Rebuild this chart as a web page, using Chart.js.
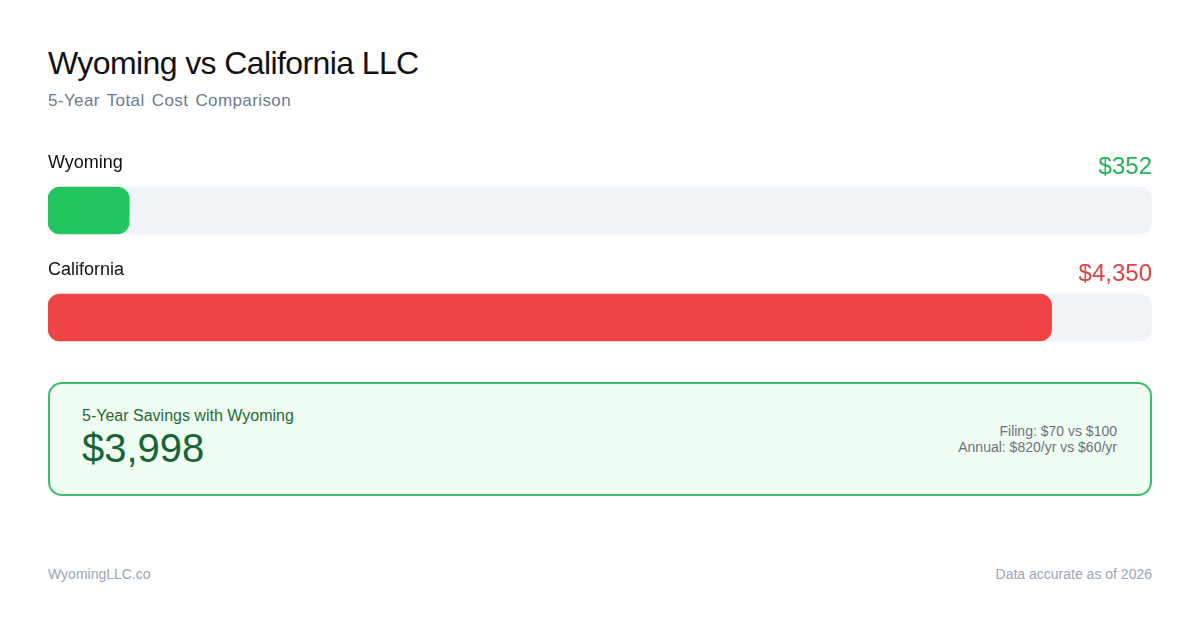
<!DOCTYPE html>
<html>
<head>
<meta charset="utf-8">
<script src="https://cdn.jsdelivr.net/npm/chart.js@4/dist/chart.umd.min.js"></script>
<style>
  html, body { margin: 0; padding: 0; background: #fff; }
  body { width: 1200px; height: 630px; position: relative; overflow: hidden; font-family: "Liberation Sans", Arial, sans-serif; }
  .title { position: absolute; left: 48px; top: 45px; font-size: 32px; color: #111; letter-spacing: -0.6px; }
  .subtitle { position: absolute; left: 48px; top: 91px; font-size: 17px; color: #6b7a8f; letter-spacing: 0.4px; word-spacing: 2px; }
  #wrap { position: absolute; left: 48px; top: 130px; width: 1104px; height: 250px; }
  .box { position: absolute; left: 48px; top: 382px; width: 1100px; height: 110px; border: 2px solid #3cbd6a; border-radius: 14px; background: #effdf3; }
  .box .lbl { position: absolute; left: 32px; top: 23px; font-size: 16px; color: #1f6b3b; }
  .box .big { position: absolute; left: 32px; top: 42px; font-size: 40px; color: #166534; }
  .box .right { position: absolute; right: 33px; top: 39px; font-size: 14px; color: #6b7280; text-align: right; line-height: 16px; }
  .foot { position: absolute; top: 566px; font-size: 14px; color: #9aa5b4; }
</style>
</head>
<body>
<div class="title">Wyoming vs California LLC</div>
<div class="subtitle">5-Year Total Cost Comparison</div>
<div id="wrap"><canvas id="bars"></canvas></div>
<div class="box">
  <div class="lbl">5-Year Savings with Wyoming</div>
  <div class="big" id="savings"></div>
  <div class="right" id="fees"></div>
</div>
<div class="foot" style="left:48px">WyomingLLC.co</div>
<div class="foot" style="right:48px">Data accurate as of 2026</div>
<script>
const states = ['Wyoming', 'California'];
const totals = [352, 4350];
const barColors = ['#22c55e', '#ef4444'];
const valueColors = ['#22b35a', '#dc4444'];
const scaleMax = 4785;
const filingFees = ['$70', '$100'];
const annualFees = ['$820/yr', '$60/yr'];

const money = v => '$' + v.toLocaleString('en-US');

document.getElementById('savings').textContent = money(totals[1] - totals[0]);
document.getElementById('fees').innerHTML =
    `Filing: ${filingFees[0]} vs ${filingFees[1]}<br>Annual: ${annualFees[0]} vs ${annualFees[1]}`;

// draws the state name and amount above each bar
const barLabels = {
    id: 'barLabels',
    afterDatasetsDraw(chart) {
        const ctx = chart.ctx;
        const meta = chart.getDatasetMeta(0);
        const area = chart.chartArea;
        ctx.save();
        meta.data.forEach((bar, i) => {
            const top = bar.y - 23.5;
            ctx.font = '18px "Liberation Sans", Arial, sans-serif';
            ctx.fillStyle = '#111';
            ctx.textAlign = 'left';
            ctx.textBaseline = 'alphabetic';
            ctx.fillText(states[i], area.left, top - 19);
            ctx.font = '24px "Liberation Sans", Arial, sans-serif';
            ctx.fillStyle = valueColors[i];
            ctx.textAlign = 'right';
            ctx.fillText(money(totals[i]), area.right, top - 13);
        });
        ctx.restore();
    },
};

new Chart(document.getElementById('bars'), {
    type: 'bar',
    data: {
        labels: states,
        datasets: [
            {
                data: totals,
                backgroundColor: barColors,
                barThickness: 47,
                borderRadius: 12,
                borderSkipped: false,
                order: 0,
            },
            {
                data: states.map(() => scaleMax),
                backgroundColor: '#f0f4f9',
                barThickness: 47,
                borderRadius: 12,
                borderSkipped: false,
                order: 1,
            },
        ],
    },
    options: {
        indexAxis: 'y',
        responsive: true,
        maintainAspectRatio: false,
        animation: false,
        layout: { padding: { top: 27, bottom: 9, left: 0, right: 0 } },
        datasets: { bar: { grouped: false } },
        plugins: {
            legend: { display: false },
            tooltip: { enabled: false },
        },
        scales: {
            x: { display: false, min: 0, max: scaleMax },
            y: { display: false },
        },
    },
    plugins: [barLabels],
});
</script>
</body>
</html>
